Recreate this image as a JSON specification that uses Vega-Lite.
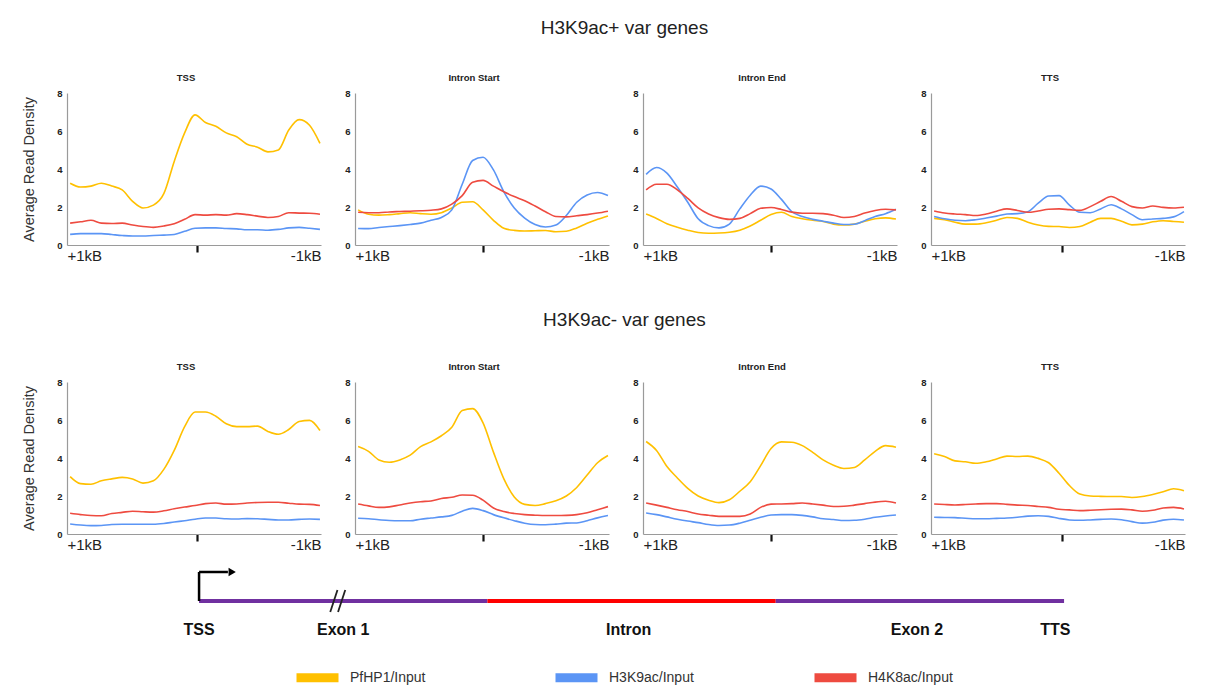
{
  "$schema": "https://vega.github.io/schema/vega-lite/v6.json",
  "background": "white",
  "padding": {"left": 21, "top": 18, "right": 10, "bottom": 6},
  "datasets": {
    "prof": [
      {"g":"+","p":"TSS","i":0,"PfHP1/Input":3.25,"H3K9ac/Input":0.56,"H4K8ac/Input":1.15},
      {"g":"+","p":"TSS","i":1,"PfHP1/Input":3.05,"H3K9ac/Input":0.6,"H4K8ac/Input":1.22},
      {"g":"+","p":"TSS","i":2,"PfHP1/Input":3.1,"H3K9ac/Input":0.6,"H4K8ac/Input":1.3},
      {"g":"+","p":"TSS","i":3,"PfHP1/Input":3.25,"H3K9ac/Input":0.6,"H4K8ac/Input":1.15},
      {"g":"+","p":"TSS","i":4,"PfHP1/Input":3.1,"H3K9ac/Input":0.55,"H4K8ac/Input":1.13},
      {"g":"+","p":"TSS","i":5,"PfHP1/Input":2.9,"H3K9ac/Input":0.5,"H4K8ac/Input":1.15},
      {"g":"+","p":"TSS","i":6,"PfHP1/Input":2.3,"H3K9ac/Input":0.47,"H4K8ac/Input":1.05},
      {"g":"+","p":"TSS","i":7,"PfHP1/Input":1.95,"H3K9ac/Input":0.47,"H4K8ac/Input":0.97},
      {"g":"+","p":"TSS","i":8,"PfHP1/Input":2.1,"H3K9ac/Input":0.5,"H4K8ac/Input":0.93},
      {"g":"+","p":"TSS","i":9,"PfHP1/Input":2.7,"H3K9ac/Input":0.52,"H4K8ac/Input":1.0},
      {"g":"+","p":"TSS","i":10,"PfHP1/Input":4.4,"H3K9ac/Input":0.55,"H4K8ac/Input":1.12},
      {"g":"+","p":"TSS","i":11,"PfHP1/Input":5.9,"H3K9ac/Input":0.72,"H4K8ac/Input":1.35},
      {"g":"+","p":"TSS","i":12,"PfHP1/Input":6.85,"H3K9ac/Input":0.88,"H4K8ac/Input":1.6},
      {"g":"+","p":"TSS","i":13,"PfHP1/Input":6.45,"H3K9ac/Input":0.9,"H4K8ac/Input":1.57},
      {"g":"+","p":"TSS","i":14,"PfHP1/Input":6.25,"H3K9ac/Input":0.9,"H4K8ac/Input":1.6},
      {"g":"+","p":"TSS","i":15,"PfHP1/Input":5.9,"H3K9ac/Input":0.87,"H4K8ac/Input":1.57},
      {"g":"+","p":"TSS","i":16,"PfHP1/Input":5.7,"H3K9ac/Input":0.85,"H4K8ac/Input":1.65},
      {"g":"+","p":"TSS","i":17,"PfHP1/Input":5.3,"H3K9ac/Input":0.8,"H4K8ac/Input":1.6},
      {"g":"+","p":"TSS","i":18,"PfHP1/Input":5.15,"H3K9ac/Input":0.8,"H4K8ac/Input":1.52},
      {"g":"+","p":"TSS","i":19,"PfHP1/Input":4.9,"H3K9ac/Input":0.78,"H4K8ac/Input":1.45},
      {"g":"+","p":"TSS","i":20,"PfHP1/Input":5.0,"H3K9ac/Input":0.82,"H4K8ac/Input":1.5},
      {"g":"+","p":"TSS","i":21,"PfHP1/Input":6.05,"H3K9ac/Input":0.9,"H4K8ac/Input":1.7},
      {"g":"+","p":"TSS","i":22,"PfHP1/Input":6.6,"H3K9ac/Input":0.93,"H4K8ac/Input":1.68},
      {"g":"+","p":"TSS","i":23,"PfHP1/Input":6.3,"H3K9ac/Input":0.88,"H4K8ac/Input":1.67},
      {"g":"+","p":"TSS","i":24,"PfHP1/Input":5.35,"H3K9ac/Input":0.82,"H4K8ac/Input":1.62},

      {"g":"+","p":"Intron Start","i":0,"PfHP1/Input":1.85,"H3K9ac/Input":0.87,"H4K8ac/Input":1.72},
      {"g":"+","p":"Intron Start","i":1,"PfHP1/Input":1.62,"H3K9ac/Input":0.86,"H4K8ac/Input":1.7},
      {"g":"+","p":"Intron Start","i":2,"PfHP1/Input":1.57,"H3K9ac/Input":0.92,"H4K8ac/Input":1.7},
      {"g":"+","p":"Intron Start","i":3,"PfHP1/Input":1.6,"H3K9ac/Input":0.97,"H4K8ac/Input":1.74},
      {"g":"+","p":"Intron Start","i":4,"PfHP1/Input":1.65,"H3K9ac/Input":1.02,"H4K8ac/Input":1.76},
      {"g":"+","p":"Intron Start","i":5,"PfHP1/Input":1.7,"H3K9ac/Input":1.08,"H4K8ac/Input":1.78},
      {"g":"+","p":"Intron Start","i":6,"PfHP1/Input":1.65,"H3K9ac/Input":1.15,"H4K8ac/Input":1.8},
      {"g":"+","p":"Intron Start","i":7,"PfHP1/Input":1.62,"H3K9ac/Input":1.3,"H4K8ac/Input":1.83},
      {"g":"+","p":"Intron Start","i":8,"PfHP1/Input":1.7,"H3K9ac/Input":1.45,"H4K8ac/Input":1.9},
      {"g":"+","p":"Intron Start","i":9,"PfHP1/Input":1.95,"H3K9ac/Input":1.85,"H4K8ac/Input":2.15},
      {"g":"+","p":"Intron Start","i":10,"PfHP1/Input":2.25,"H3K9ac/Input":3.2,"H4K8ac/Input":2.6},
      {"g":"+","p":"Intron Start","i":11,"PfHP1/Input":2.28,"H3K9ac/Input":4.45,"H4K8ac/Input":3.3},
      {"g":"+","p":"Intron Start","i":12,"PfHP1/Input":1.85,"H3K9ac/Input":4.62,"H4K8ac/Input":3.4},
      {"g":"+","p":"Intron Start","i":13,"PfHP1/Input":1.3,"H3K9ac/Input":3.95,"H4K8ac/Input":3.1},
      {"g":"+","p":"Intron Start","i":14,"PfHP1/Input":0.88,"H3K9ac/Input":2.8,"H4K8ac/Input":2.8},
      {"g":"+","p":"Intron Start","i":15,"PfHP1/Input":0.77,"H3K9ac/Input":1.95,"H4K8ac/Input":2.55},
      {"g":"+","p":"Intron Start","i":16,"PfHP1/Input":0.74,"H3K9ac/Input":1.42,"H4K8ac/Input":2.33},
      {"g":"+","p":"Intron Start","i":17,"PfHP1/Input":0.75,"H3K9ac/Input":1.08,"H4K8ac/Input":2.05},
      {"g":"+","p":"Intron Start","i":18,"PfHP1/Input":0.76,"H3K9ac/Input":0.95,"H4K8ac/Input":1.75},
      {"g":"+","p":"Intron Start","i":19,"PfHP1/Input":0.7,"H3K9ac/Input":1.05,"H4K8ac/Input":1.5},
      {"g":"+","p":"Intron Start","i":20,"PfHP1/Input":0.72,"H3K9ac/Input":1.55,"H4K8ac/Input":1.48},
      {"g":"+","p":"Intron Start","i":21,"PfHP1/Input":0.9,"H3K9ac/Input":2.25,"H4K8ac/Input":1.54},
      {"g":"+","p":"Intron Start","i":22,"PfHP1/Input":1.15,"H3K9ac/Input":2.63,"H4K8ac/Input":1.6},
      {"g":"+","p":"Intron Start","i":23,"PfHP1/Input":1.35,"H3K9ac/Input":2.76,"H4K8ac/Input":1.68},
      {"g":"+","p":"Intron Start","i":24,"PfHP1/Input":1.53,"H3K9ac/Input":2.6,"H4K8ac/Input":1.78},

      {"g":"+","p":"Intron End","i":0,"PfHP1/Input":1.63,"H3K9ac/Input":3.72,"H4K8ac/Input":2.9},
      {"g":"+","p":"Intron End","i":1,"PfHP1/Input":1.4,"H3K9ac/Input":4.08,"H4K8ac/Input":3.2},
      {"g":"+","p":"Intron End","i":2,"PfHP1/Input":1.12,"H3K9ac/Input":3.78,"H4K8ac/Input":3.2},
      {"g":"+","p":"Intron End","i":3,"PfHP1/Input":0.93,"H3K9ac/Input":3.05,"H4K8ac/Input":2.9},
      {"g":"+","p":"Intron End","i":4,"PfHP1/Input":0.78,"H3K9ac/Input":2.25,"H4K8ac/Input":2.45},
      {"g":"+","p":"Intron End","i":5,"PfHP1/Input":0.66,"H3K9ac/Input":1.38,"H4K8ac/Input":1.95},
      {"g":"+","p":"Intron End","i":6,"PfHP1/Input":0.62,"H3K9ac/Input":1.02,"H4K8ac/Input":1.63},
      {"g":"+","p":"Intron End","i":7,"PfHP1/Input":0.63,"H3K9ac/Input":0.9,"H4K8ac/Input":1.44},
      {"g":"+","p":"Intron End","i":8,"PfHP1/Input":0.67,"H3K9ac/Input":1.1,"H4K8ac/Input":1.35},
      {"g":"+","p":"Intron End","i":9,"PfHP1/Input":0.78,"H3K9ac/Input":1.9,"H4K8ac/Input":1.4},
      {"g":"+","p":"Intron End","i":10,"PfHP1/Input":1.0,"H3K9ac/Input":2.62,"H4K8ac/Input":1.65},
      {"g":"+","p":"Intron End","i":11,"PfHP1/Input":1.3,"H3K9ac/Input":3.1,"H4K8ac/Input":1.93},
      {"g":"+","p":"Intron End","i":12,"PfHP1/Input":1.6,"H3K9ac/Input":2.95,"H4K8ac/Input":1.97},
      {"g":"+","p":"Intron End","i":13,"PfHP1/Input":1.72,"H3K9ac/Input":2.4,"H4K8ac/Input":1.87},
      {"g":"+","p":"Intron End","i":14,"PfHP1/Input":1.5,"H3K9ac/Input":1.75,"H4K8ac/Input":1.73},
      {"g":"+","p":"Intron End","i":15,"PfHP1/Input":1.38,"H3K9ac/Input":1.5,"H4K8ac/Input":1.67},
      {"g":"+","p":"Intron End","i":16,"PfHP1/Input":1.3,"H3K9ac/Input":1.35,"H4K8ac/Input":1.67},
      {"g":"+","p":"Intron End","i":17,"PfHP1/Input":1.24,"H3K9ac/Input":1.25,"H4K8ac/Input":1.65},
      {"g":"+","p":"Intron End","i":18,"PfHP1/Input":1.1,"H3K9ac/Input":1.15,"H4K8ac/Input":1.57},
      {"g":"+","p":"Intron End","i":19,"PfHP1/Input":1.05,"H3K9ac/Input":1.08,"H4K8ac/Input":1.45},
      {"g":"+","p":"Intron End","i":20,"PfHP1/Input":1.1,"H3K9ac/Input":1.09,"H4K8ac/Input":1.5},
      {"g":"+","p":"Intron End","i":21,"PfHP1/Input":1.25,"H3K9ac/Input":1.28,"H4K8ac/Input":1.68},
      {"g":"+","p":"Intron End","i":22,"PfHP1/Input":1.38,"H3K9ac/Input":1.5,"H4K8ac/Input":1.82},
      {"g":"+","p":"Intron End","i":23,"PfHP1/Input":1.43,"H3K9ac/Input":1.65,"H4K8ac/Input":1.88},
      {"g":"+","p":"Intron End","i":24,"PfHP1/Input":1.37,"H3K9ac/Input":1.88,"H4K8ac/Input":1.85},

      {"g":"+","p":"TTS","i":0,"PfHP1/Input":1.4,"H3K9ac/Input":1.5,"H4K8ac/Input":1.79},
      {"g":"+","p":"TTS","i":1,"PfHP1/Input":1.33,"H3K9ac/Input":1.38,"H4K8ac/Input":1.68},
      {"g":"+","p":"TTS","i":2,"PfHP1/Input":1.2,"H3K9ac/Input":1.3,"H4K8ac/Input":1.63},
      {"g":"+","p":"TTS","i":3,"PfHP1/Input":1.1,"H3K9ac/Input":1.28,"H4K8ac/Input":1.6},
      {"g":"+","p":"TTS","i":4,"PfHP1/Input":1.1,"H3K9ac/Input":1.33,"H4K8ac/Input":1.55},
      {"g":"+","p":"TTS","i":5,"PfHP1/Input":1.17,"H3K9ac/Input":1.42,"H4K8ac/Input":1.63},
      {"g":"+","p":"TTS","i":6,"PfHP1/Input":1.3,"H3K9ac/Input":1.52,"H4K8ac/Input":1.78},
      {"g":"+","p":"TTS","i":7,"PfHP1/Input":1.45,"H3K9ac/Input":1.63,"H4K8ac/Input":1.9},
      {"g":"+","p":"TTS","i":8,"PfHP1/Input":1.4,"H3K9ac/Input":1.65,"H4K8ac/Input":1.82},
      {"g":"+","p":"TTS","i":9,"PfHP1/Input":1.2,"H3K9ac/Input":1.75,"H4K8ac/Input":1.72},
      {"g":"+","p":"TTS","i":10,"PfHP1/Input":1.05,"H3K9ac/Input":2.2,"H4K8ac/Input":1.79},
      {"g":"+","p":"TTS","i":11,"PfHP1/Input":0.98,"H3K9ac/Input":2.58,"H4K8ac/Input":1.88},
      {"g":"+","p":"TTS","i":12,"PfHP1/Input":0.97,"H3K9ac/Input":2.6,"H4K8ac/Input":1.9},
      {"g":"+","p":"TTS","i":13,"PfHP1/Input":0.92,"H3K9ac/Input":2.1,"H4K8ac/Input":1.86},
      {"g":"+","p":"TTS","i":14,"PfHP1/Input":0.97,"H3K9ac/Input":1.72,"H4K8ac/Input":1.82},
      {"g":"+","p":"TTS","i":15,"PfHP1/Input":1.2,"H3K9ac/Input":1.7,"H4K8ac/Input":2.02},
      {"g":"+","p":"TTS","i":16,"PfHP1/Input":1.4,"H3K9ac/Input":1.9,"H4K8ac/Input":2.3},
      {"g":"+","p":"TTS","i":17,"PfHP1/Input":1.4,"H3K9ac/Input":2.12,"H4K8ac/Input":2.55},
      {"g":"+","p":"TTS","i":18,"PfHP1/Input":1.25,"H3K9ac/Input":1.9,"H4K8ac/Input":2.3},
      {"g":"+","p":"TTS","i":19,"PfHP1/Input":1.06,"H3K9ac/Input":1.6,"H4K8ac/Input":2.02},
      {"g":"+","p":"TTS","i":20,"PfHP1/Input":1.1,"H3K9ac/Input":1.33,"H4K8ac/Input":1.95},
      {"g":"+","p":"TTS","i":21,"PfHP1/Input":1.22,"H3K9ac/Input":1.37,"H4K8ac/Input":2.05},
      {"g":"+","p":"TTS","i":22,"PfHP1/Input":1.28,"H3K9ac/Input":1.4,"H4K8ac/Input":1.98},
      {"g":"+","p":"TTS","i":23,"PfHP1/Input":1.24,"H3K9ac/Input":1.48,"H4K8ac/Input":1.95},
      {"g":"+","p":"TTS","i":24,"PfHP1/Input":1.2,"H3K9ac/Input":1.76,"H4K8ac/Input":1.99},

      {"g":"-","p":"TSS","i":0,"PfHP1/Input":3.02,"H3K9ac/Input":0.53,"H4K8ac/Input":1.09},
      {"g":"-","p":"TSS","i":1,"PfHP1/Input":2.65,"H3K9ac/Input":0.47,"H4K8ac/Input":1.02},
      {"g":"-","p":"TSS","i":2,"PfHP1/Input":2.62,"H3K9ac/Input":0.44,"H4K8ac/Input":0.97},
      {"g":"-","p":"TSS","i":3,"PfHP1/Input":2.8,"H3K9ac/Input":0.45,"H4K8ac/Input":0.96},
      {"g":"-","p":"TSS","i":4,"PfHP1/Input":2.9,"H3K9ac/Input":0.5,"H4K8ac/Input":1.08},
      {"g":"-","p":"TSS","i":5,"PfHP1/Input":2.98,"H3K9ac/Input":0.51,"H4K8ac/Input":1.14},
      {"g":"-","p":"TSS","i":6,"PfHP1/Input":2.9,"H3K9ac/Input":0.51,"H4K8ac/Input":1.2},
      {"g":"-","p":"TSS","i":7,"PfHP1/Input":2.68,"H3K9ac/Input":0.51,"H4K8ac/Input":1.17},
      {"g":"-","p":"TSS","i":8,"PfHP1/Input":2.8,"H3K9ac/Input":0.51,"H4K8ac/Input":1.15},
      {"g":"-","p":"TSS","i":9,"PfHP1/Input":3.4,"H3K9ac/Input":0.55,"H4K8ac/Input":1.22},
      {"g":"-","p":"TSS","i":10,"PfHP1/Input":4.4,"H3K9ac/Input":0.63,"H4K8ac/Input":1.33},
      {"g":"-","p":"TSS","i":11,"PfHP1/Input":5.65,"H3K9ac/Input":0.7,"H4K8ac/Input":1.42},
      {"g":"-","p":"TSS","i":12,"PfHP1/Input":6.42,"H3K9ac/Input":0.78,"H4K8ac/Input":1.5},
      {"g":"-","p":"TSS","i":13,"PfHP1/Input":6.42,"H3K9ac/Input":0.84,"H4K8ac/Input":1.6},
      {"g":"-","p":"TSS","i":14,"PfHP1/Input":6.2,"H3K9ac/Input":0.84,"H4K8ac/Input":1.63},
      {"g":"-","p":"TSS","i":15,"PfHP1/Input":5.8,"H3K9ac/Input":0.8,"H4K8ac/Input":1.57},
      {"g":"-","p":"TSS","i":16,"PfHP1/Input":5.65,"H3K9ac/Input":0.79,"H4K8ac/Input":1.58},
      {"g":"-","p":"TSS","i":17,"PfHP1/Input":5.65,"H3K9ac/Input":0.81,"H4K8ac/Input":1.63},
      {"g":"-","p":"TSS","i":18,"PfHP1/Input":5.68,"H3K9ac/Input":0.8,"H4K8ac/Input":1.66},
      {"g":"-","p":"TSS","i":19,"PfHP1/Input":5.4,"H3K9ac/Input":0.77,"H4K8ac/Input":1.67},
      {"g":"-","p":"TSS","i":20,"PfHP1/Input":5.25,"H3K9ac/Input":0.74,"H4K8ac/Input":1.67},
      {"g":"-","p":"TSS","i":21,"PfHP1/Input":5.5,"H3K9ac/Input":0.74,"H4K8ac/Input":1.62},
      {"g":"-","p":"TSS","i":22,"PfHP1/Input":5.92,"H3K9ac/Input":0.77,"H4K8ac/Input":1.57},
      {"g":"-","p":"TSS","i":23,"PfHP1/Input":5.98,"H3K9ac/Input":0.79,"H4K8ac/Input":1.56},
      {"g":"-","p":"TSS","i":24,"PfHP1/Input":5.45,"H3K9ac/Input":0.77,"H4K8ac/Input":1.5},

      {"g":"-","p":"Intron Start","i":0,"PfHP1/Input":4.6,"H3K9ac/Input":0.83,"H4K8ac/Input":1.58},
      {"g":"-","p":"Intron Start","i":1,"PfHP1/Input":4.35,"H3K9ac/Input":0.8,"H4K8ac/Input":1.48},
      {"g":"-","p":"Intron Start","i":2,"PfHP1/Input":3.9,"H3K9ac/Input":0.75,"H4K8ac/Input":1.4},
      {"g":"-","p":"Intron Start","i":3,"PfHP1/Input":3.78,"H3K9ac/Input":0.71,"H4K8ac/Input":1.43},
      {"g":"-","p":"Intron Start","i":4,"PfHP1/Input":3.9,"H3K9ac/Input":0.7,"H4K8ac/Input":1.53},
      {"g":"-","p":"Intron Start","i":5,"PfHP1/Input":4.15,"H3K9ac/Input":0.7,"H4K8ac/Input":1.63},
      {"g":"-","p":"Intron Start","i":6,"PfHP1/Input":4.6,"H3K9ac/Input":0.78,"H4K8ac/Input":1.7},
      {"g":"-","p":"Intron Start","i":7,"PfHP1/Input":4.85,"H3K9ac/Input":0.84,"H4K8ac/Input":1.74},
      {"g":"-","p":"Intron Start","i":8,"PfHP1/Input":5.17,"H3K9ac/Input":0.9,"H4K8ac/Input":1.87},
      {"g":"-","p":"Intron Start","i":9,"PfHP1/Input":5.62,"H3K9ac/Input":0.98,"H4K8ac/Input":1.93},
      {"g":"-","p":"Intron Start","i":10,"PfHP1/Input":6.5,"H3K9ac/Input":1.2,"H4K8ac/Input":2.05},
      {"g":"-","p":"Intron Start","i":11,"PfHP1/Input":6.6,"H3K9ac/Input":1.35,"H4K8ac/Input":2.04},
      {"g":"-","p":"Intron Start","i":12,"PfHP1/Input":5.85,"H3K9ac/Input":1.23,"H4K8ac/Input":1.78},
      {"g":"-","p":"Intron Start","i":13,"PfHP1/Input":4.31,"H3K9ac/Input":1.02,"H4K8ac/Input":1.37},
      {"g":"-","p":"Intron Start","i":14,"PfHP1/Input":2.9,"H3K9ac/Input":0.85,"H4K8ac/Input":1.18},
      {"g":"-","p":"Intron Start","i":15,"PfHP1/Input":1.95,"H3K9ac/Input":0.7,"H4K8ac/Input":1.08},
      {"g":"-","p":"Intron Start","i":16,"PfHP1/Input":1.56,"H3K9ac/Input":0.57,"H4K8ac/Input":1.02},
      {"g":"-","p":"Intron Start","i":17,"PfHP1/Input":1.5,"H3K9ac/Input":0.5,"H4K8ac/Input":0.99},
      {"g":"-","p":"Intron Start","i":18,"PfHP1/Input":1.6,"H3K9ac/Input":0.49,"H4K8ac/Input":0.97},
      {"g":"-","p":"Intron Start","i":19,"PfHP1/Input":1.75,"H3K9ac/Input":0.52,"H4K8ac/Input":0.97},
      {"g":"-","p":"Intron Start","i":20,"PfHP1/Input":2.0,"H3K9ac/Input":0.57,"H4K8ac/Input":0.98},
      {"g":"-","p":"Intron Start","i":21,"PfHP1/Input":2.45,"H3K9ac/Input":0.58,"H4K8ac/Input":1.02},
      {"g":"-","p":"Intron Start","i":22,"PfHP1/Input":3.1,"H3K9ac/Input":0.7,"H4K8ac/Input":1.12},
      {"g":"-","p":"Intron Start","i":23,"PfHP1/Input":3.75,"H3K9ac/Input":0.85,"H4K8ac/Input":1.28},
      {"g":"-","p":"Intron Start","i":24,"PfHP1/Input":4.13,"H3K9ac/Input":0.97,"H4K8ac/Input":1.44},

      {"g":"-","p":"Intron End","i":0,"PfHP1/Input":4.87,"H3K9ac/Input":1.11,"H4K8ac/Input":1.63},
      {"g":"-","p":"Intron End","i":1,"PfHP1/Input":4.4,"H3K9ac/Input":1.02,"H4K8ac/Input":1.52},
      {"g":"-","p":"Intron End","i":2,"PfHP1/Input":3.55,"H3K9ac/Input":0.9,"H4K8ac/Input":1.4},
      {"g":"-","p":"Intron End","i":3,"PfHP1/Input":2.95,"H3K9ac/Input":0.78,"H4K8ac/Input":1.28},
      {"g":"-","p":"Intron End","i":4,"PfHP1/Input":2.4,"H3K9ac/Input":0.68,"H4K8ac/Input":1.18},
      {"g":"-","p":"Intron End","i":5,"PfHP1/Input":2.0,"H3K9ac/Input":0.6,"H4K8ac/Input":1.05},
      {"g":"-","p":"Intron End","i":6,"PfHP1/Input":1.78,"H3K9ac/Input":0.5,"H4K8ac/Input":0.99},
      {"g":"-","p":"Intron End","i":7,"PfHP1/Input":1.65,"H3K9ac/Input":0.45,"H4K8ac/Input":0.93},
      {"g":"-","p":"Intron End","i":8,"PfHP1/Input":1.8,"H3K9ac/Input":0.47,"H4K8ac/Input":0.93},
      {"g":"-","p":"Intron End","i":9,"PfHP1/Input":2.25,"H3K9ac/Input":0.57,"H4K8ac/Input":0.93},
      {"g":"-","p":"Intron End","i":10,"PfHP1/Input":2.75,"H3K9ac/Input":0.72,"H4K8ac/Input":1.05},
      {"g":"-","p":"Intron End","i":11,"PfHP1/Input":3.6,"H3K9ac/Input":0.88,"H4K8ac/Input":1.4},
      {"g":"-","p":"Intron End","i":12,"PfHP1/Input":4.5,"H3K9ac/Input":1.0,"H4K8ac/Input":1.57},
      {"g":"-","p":"Intron End","i":13,"PfHP1/Input":4.85,"H3K9ac/Input":1.02,"H4K8ac/Input":1.58},
      {"g":"-","p":"Intron End","i":14,"PfHP1/Input":4.83,"H3K9ac/Input":1.02,"H4K8ac/Input":1.6},
      {"g":"-","p":"Intron End","i":15,"PfHP1/Input":4.65,"H3K9ac/Input":0.98,"H4K8ac/Input":1.63},
      {"g":"-","p":"Intron End","i":16,"PfHP1/Input":4.3,"H3K9ac/Input":0.9,"H4K8ac/Input":1.58},
      {"g":"-","p":"Intron End","i":17,"PfHP1/Input":3.9,"H3K9ac/Input":0.8,"H4K8ac/Input":1.52},
      {"g":"-","p":"Intron End","i":18,"PfHP1/Input":3.62,"H3K9ac/Input":0.76,"H4K8ac/Input":1.45},
      {"g":"-","p":"Intron End","i":19,"PfHP1/Input":3.45,"H3K9ac/Input":0.71,"H4K8ac/Input":1.46},
      {"g":"-","p":"Intron End","i":20,"PfHP1/Input":3.5,"H3K9ac/Input":0.72,"H4K8ac/Input":1.52},
      {"g":"-","p":"Intron End","i":21,"PfHP1/Input":3.9,"H3K9ac/Input":0.78,"H4K8ac/Input":1.6},
      {"g":"-","p":"Intron End","i":22,"PfHP1/Input":4.35,"H3K9ac/Input":0.88,"H4K8ac/Input":1.68},
      {"g":"-","p":"Intron End","i":23,"PfHP1/Input":4.65,"H3K9ac/Input":0.95,"H4K8ac/Input":1.72},
      {"g":"-","p":"Intron End","i":24,"PfHP1/Input":4.57,"H3K9ac/Input":1.0,"H4K8ac/Input":1.63},

      {"g":"-","p":"TTS","i":0,"PfHP1/Input":4.22,"H3K9ac/Input":0.88,"H4K8ac/Input":1.58},
      {"g":"-","p":"TTS","i":1,"PfHP1/Input":4.08,"H3K9ac/Input":0.87,"H4K8ac/Input":1.55},
      {"g":"-","p":"TTS","i":2,"PfHP1/Input":3.85,"H3K9ac/Input":0.86,"H4K8ac/Input":1.53},
      {"g":"-","p":"TTS","i":3,"PfHP1/Input":3.8,"H3K9ac/Input":0.83,"H4K8ac/Input":1.55},
      {"g":"-","p":"TTS","i":4,"PfHP1/Input":3.72,"H3K9ac/Input":0.8,"H4K8ac/Input":1.58},
      {"g":"-","p":"TTS","i":5,"PfHP1/Input":3.8,"H3K9ac/Input":0.8,"H4K8ac/Input":1.6},
      {"g":"-","p":"TTS","i":6,"PfHP1/Input":3.95,"H3K9ac/Input":0.82,"H4K8ac/Input":1.6},
      {"g":"-","p":"TTS","i":7,"PfHP1/Input":4.1,"H3K9ac/Input":0.84,"H4K8ac/Input":1.56},
      {"g":"-","p":"TTS","i":8,"PfHP1/Input":4.08,"H3K9ac/Input":0.88,"H4K8ac/Input":1.52},
      {"g":"-","p":"TTS","i":9,"PfHP1/Input":4.1,"H3K9ac/Input":0.94,"H4K8ac/Input":1.5},
      {"g":"-","p":"TTS","i":10,"PfHP1/Input":3.98,"H3K9ac/Input":0.96,"H4K8ac/Input":1.45},
      {"g":"-","p":"TTS","i":11,"PfHP1/Input":3.75,"H3K9ac/Input":0.93,"H4K8ac/Input":1.4},
      {"g":"-","p":"TTS","i":12,"PfHP1/Input":3.2,"H3K9ac/Input":0.82,"H4K8ac/Input":1.3},
      {"g":"-","p":"TTS","i":13,"PfHP1/Input":2.55,"H3K9ac/Input":0.74,"H4K8ac/Input":1.27},
      {"g":"-","p":"TTS","i":14,"PfHP1/Input":2.1,"H3K9ac/Input":0.72,"H4K8ac/Input":1.23},
      {"g":"-","p":"TTS","i":15,"PfHP1/Input":2.0,"H3K9ac/Input":0.74,"H4K8ac/Input":1.25},
      {"g":"-","p":"TTS","i":16,"PfHP1/Input":1.98,"H3K9ac/Input":0.77,"H4K8ac/Input":1.28},
      {"g":"-","p":"TTS","i":17,"PfHP1/Input":1.97,"H3K9ac/Input":0.79,"H4K8ac/Input":1.3},
      {"g":"-","p":"TTS","i":18,"PfHP1/Input":1.97,"H3K9ac/Input":0.75,"H4K8ac/Input":1.31},
      {"g":"-","p":"TTS","i":19,"PfHP1/Input":1.92,"H3K9ac/Input":0.65,"H4K8ac/Input":1.27},
      {"g":"-","p":"TTS","i":20,"PfHP1/Input":1.97,"H3K9ac/Input":0.57,"H4K8ac/Input":1.2},
      {"g":"-","p":"TTS","i":21,"PfHP1/Input":2.08,"H3K9ac/Input":0.62,"H4K8ac/Input":1.25},
      {"g":"-","p":"TTS","i":22,"PfHP1/Input":2.22,"H3K9ac/Input":0.73,"H4K8ac/Input":1.37},
      {"g":"-","p":"TTS","i":23,"PfHP1/Input":2.38,"H3K9ac/Input":0.78,"H4K8ac/Input":1.4},
      {"g":"-","p":"TTS","i":24,"PfHP1/Input":2.28,"H3K9ac/Input":0.74,"H4K8ac/Input":1.32}
    ],
    "parts": [
      {"part": "Exon 1", "start": 0, "end": 1},
      {"part": "Intron", "start": 1, "end": 2},
      {"part": "Exon 2", "start": 2, "end": 3}
    ],
    "labels": [
      {"label": "TSS", "at": 0},
      {"label": "Exon 1", "at": 0.5},
      {"label": "Intron", "at": 1.49},
      {"label": "Exon 2", "at": 2.49},
      {"label": "TTS", "at": 2.97}
    ]
  },
  "data": {"name": "prof"},
  "vconcat": [
    {
      "spacing": 47,
      "vconcat": [
        {
          "title": {"text": "H3K9ac+ var genes", "fontSize": 19, "fontWeight": "normal", "color": "#222", "offset": 35, "dx": 20, "anchor": "middle"},
          "spacing": 20,
          "hconcat": [
            {"width": 254, "height": 152, "title": {"text": "TSS"},
             "transform": [{"filter": "datum.g == '+' && datum.p == 'TSS'"}, {"fold": ["PfHP1/Input", "H3K9ac/Input", "H4K8ac/Input"], "as": ["series", "value"]}],
             "mark": {"type": "line", "interpolate": "monotone", "strokeWidth": 1.6},
             "encoding": {
               "x": {"field": "i", "type": "quantitative", "scale": {"domain": [-0.3, 24.1], "nice": false, "zero": false}, "axis": {"values": [-0.3, 12.2, 24.1]}},
               "y": {"field": "value", "type": "quantitative", "scale": {"domain": [0, 8]}, "axis": {"values": [0, 2, 4, 6, 8], "title": "Average Read Density"}},
               "color": {"field": "series", "type": "nominal", "scale": {"domain": ["PfHP1/Input", "H3K9ac/Input", "H4K8ac/Input"], "range": ["#FFC000", "#5B95F5", "#EE4B40"]},
                         "legend": {"title": null, "orient": "none", "legendX": 225, "legendY": 559, "direction": "horizontal"}}
             }},
            {"width": 254, "height": 152, "title": {"text": "Intron Start"},
             "transform": [{"filter": "datum.g == '+' && datum.p == 'Intron Start'"}, {"fold": ["PfHP1/Input", "H3K9ac/Input", "H4K8ac/Input"], "as": ["series", "value"]}],
             "mark": {"type": "line", "interpolate": "monotone", "strokeWidth": 1.6},
             "encoding": {
               "x": {"field": "i", "type": "quantitative", "scale": {"domain": [-0.3, 24.1], "nice": false, "zero": false}, "axis": {"values": [-0.3, 12.0, 24.1]}},
               "y": {"field": "value", "type": "quantitative", "scale": {"domain": [0, 8]}, "axis": {"values": [0, 2, 4, 6, 8], "title": null}},
               "color": {"field": "series", "type": "nominal"}
             }},
            {"width": 254, "height": 152, "title": {"text": "Intron End"},
             "transform": [{"filter": "datum.g == '+' && datum.p == 'Intron End'"}, {"fold": ["PfHP1/Input", "H3K9ac/Input", "H4K8ac/Input"], "as": ["series", "value"]}],
             "mark": {"type": "line", "interpolate": "monotone", "strokeWidth": 1.6},
             "encoding": {
               "x": {"field": "i", "type": "quantitative", "scale": {"domain": [-0.3, 24.1], "nice": false, "zero": false}, "axis": {"values": [-0.3, 12.0, 24.1]}},
               "y": {"field": "value", "type": "quantitative", "scale": {"domain": [0, 8]}, "axis": {"values": [0, 2, 4, 6, 8], "title": null}},
               "color": {"field": "series", "type": "nominal"}
             }},
            {"width": 254, "height": 152, "title": {"text": "TTS"},
             "transform": [{"filter": "datum.g == '+' && datum.p == 'TTS'"}, {"fold": ["PfHP1/Input", "H3K9ac/Input", "H4K8ac/Input"], "as": ["series", "value"]}],
             "mark": {"type": "line", "interpolate": "monotone", "strokeWidth": 1.6},
             "encoding": {
               "x": {"field": "i", "type": "quantitative", "scale": {"domain": [-0.3, 24.1], "nice": false, "zero": false}, "axis": {"values": [-0.3, 12.3, 24.1]}},
               "y": {"field": "value", "type": "quantitative", "scale": {"domain": [0, 8]}, "axis": {"values": [0, 2, 4, 6, 8], "title": null}},
               "color": {"field": "series", "type": "nominal"}
             }}
          ]
        },
        {
          "title": {"text": "H3K9ac- var genes", "fontSize": 19, "fontWeight": "normal", "color": "#222", "offset": 32, "dx": 20, "anchor": "middle"},
          "spacing": 20,
          "hconcat": [
            {"width": 254, "height": 152, "title": {"text": "TSS"},
             "transform": [{"filter": "datum.g == '-' && datum.p == 'TSS'"}, {"fold": ["PfHP1/Input", "H3K9ac/Input", "H4K8ac/Input"], "as": ["series", "value"]}],
             "mark": {"type": "line", "interpolate": "monotone", "strokeWidth": 1.6},
             "encoding": {
               "x": {"field": "i", "type": "quantitative", "scale": {"domain": [-0.3, 24.1], "nice": false, "zero": false}, "axis": {"values": [-0.3, 12.2, 24.1]}},
               "y": {"field": "value", "type": "quantitative", "scale": {"domain": [0, 8]}, "axis": {"values": [0, 2, 4, 6, 8], "title": "Average Read Density"}},
               "color": {"field": "series", "type": "nominal"}
             }},
            {"width": 254, "height": 152, "title": {"text": "Intron Start"},
             "transform": [{"filter": "datum.g == '-' && datum.p == 'Intron Start'"}, {"fold": ["PfHP1/Input", "H3K9ac/Input", "H4K8ac/Input"], "as": ["series", "value"]}],
             "mark": {"type": "line", "interpolate": "monotone", "strokeWidth": 1.6},
             "encoding": {
               "x": {"field": "i", "type": "quantitative", "scale": {"domain": [-0.3, 24.1], "nice": false, "zero": false}, "axis": {"values": [-0.3, 12.0, 24.1]}},
               "y": {"field": "value", "type": "quantitative", "scale": {"domain": [0, 8]}, "axis": {"values": [0, 2, 4, 6, 8], "title": null}},
               "color": {"field": "series", "type": "nominal"}
             }},
            {"width": 254, "height": 152, "title": {"text": "Intron End"},
             "transform": [{"filter": "datum.g == '-' && datum.p == 'Intron End'"}, {"fold": ["PfHP1/Input", "H3K9ac/Input", "H4K8ac/Input"], "as": ["series", "value"]}],
             "mark": {"type": "line", "interpolate": "monotone", "strokeWidth": 1.6},
             "encoding": {
               "x": {"field": "i", "type": "quantitative", "scale": {"domain": [-0.3, 24.1], "nice": false, "zero": false}, "axis": {"values": [-0.3, 12.0, 24.1]}},
               "y": {"field": "value", "type": "quantitative", "scale": {"domain": [0, 8]}, "axis": {"values": [0, 2, 4, 6, 8], "title": null}},
               "color": {"field": "series", "type": "nominal"}
             }},
            {"width": 254, "height": 152, "title": {"text": "TTS"},
             "transform": [{"filter": "datum.g == '-' && datum.p == 'TTS'"}, {"fold": ["PfHP1/Input", "H3K9ac/Input", "H4K8ac/Input"], "as": ["series", "value"]}],
             "mark": {"type": "line", "interpolate": "monotone", "strokeWidth": 1.6},
             "encoding": {
               "x": {"field": "i", "type": "quantitative", "scale": {"domain": [-0.3, 24.1], "nice": false, "zero": false}, "axis": {"values": [-0.3, 12.3, 24.1]}},
               "y": {"field": "value", "type": "quantitative", "scale": {"domain": [0, 8]}, "axis": {"values": [0, 2, 4, 6, 8], "title": null}},
               "color": {"field": "series", "type": "nominal"}
             }}
          ]
        }
      ]
    },
    {
      "width": 1100,
      "height": 58,
      "layer": [
        {"data": {"name": "parts"},
         "mark": {"type": "rule", "strokeWidth": 4},
         "encoding": {
           "x": {"field": "start", "type": "quantitative", "scale": {"domain": [-0.458, 3.357], "nice": false, "zero": false}, "axis": null},
           "x2": {"field": "end"},
           "y": {"datum": 0, "type": "quantitative", "scale": {"domain": [-1, 1]}, "axis": null},
           "color": {"condition": {"test": "datum.part == 'Intron'", "value": "#FF0000"}, "value": "#7030A0"}
         }},
        {"data": {"values": [{}]},
         "mark": {"type": "rule", "strokeWidth": 2.5, "color": "#000"},
         "encoding": {"x": {"datum": 0}, "y": {"datum": 0}, "y2": {"datum": 1}}},
        {"data": {"values": [{}]},
         "mark": {"type": "rule", "strokeWidth": 2.5, "color": "#000"},
         "encoding": {"x": {"datum": 0}, "x2": {"datum": 0.1}, "y": {"datum": 1}}},
        {"data": {"values": [{}]},
         "mark": {"type": "point", "shape": "triangle-right", "filled": true, "size": 70, "color": "#000", "opacity": 1},
         "encoding": {"x": {"datum": 0.115}, "y": {"datum": 1}}},
        {"data": {"values": [{}]},
         "mark": {"type": "rule", "strokeWidth": 1.8, "color": "#222"},
         "encoding": {"x": {"datum": 0.455}, "x2": {"datum": 0.48}, "y": {"datum": -0.38}, "y2": {"datum": 0.38}}},
        {"data": {"values": [{}]},
         "mark": {"type": "rule", "strokeWidth": 1.8, "color": "#222"},
         "encoding": {"x": {"datum": 0.482}, "x2": {"datum": 0.507}, "y": {"datum": -0.38}, "y2": {"datum": 0.38}}},
        {"data": {"name": "labels"},
         "mark": {"type": "text", "fontSize": 16, "fontWeight": "bold", "color": "#111", "baseline": "middle"},
         "encoding": {"x": {"field": "at", "type": "quantitative"}, "y": {"datum": -1}, "text": {"field": "label"}}}
      ]
    }
  ],
  "spacing": 15,
  "config": {
    "view": {"stroke": null},
    "font": "Liberation Sans",
    "title": {"fontSize": 9.5, "fontWeight": "bold", "color": "#222", "offset": 6, "dx": -8, "anchor": "middle"},
    "axis": {"grid": false, "ticks": false, "domainColor": "#9a9a9a", "domainWidth": 1.2, "labelColor": "#222", "labelOverlap": false},
    "axisX": {"title": null, "labelFontSize": 15, "labelPadding": -4, "labelFlush": true, "ticks": true, "tickSize": 7, "tickWidth": 2.2,
              "labelExpr": "datum.value < 5 ? '+1kB' : (datum.value > 20 ? '-1kB' : '')",
              "tickColor": {"condition": {"test": "datum.value > 5 && datum.value < 20", "value": "#111"}, "value": "rgba(0,0,0,0)"}},
    "axisY": {"labelFontSize": 9.5, "labelFontWeight": "bold", "labelPadding": 5, "labelOverlap": false, "titleFontSize": 14.5, "titleFontWeight": "normal", "titleColor": "#333", "titlePadding": 20},
    "legend": {"symbolType": "stroke", "symbolSize": 1764, "symbolStrokeWidth": 9, "labelFontSize": 14, "labelColor": "#333", "labelOffset": 7, "columnPadding": 102, "gridAlign": "all"}
  }
}
